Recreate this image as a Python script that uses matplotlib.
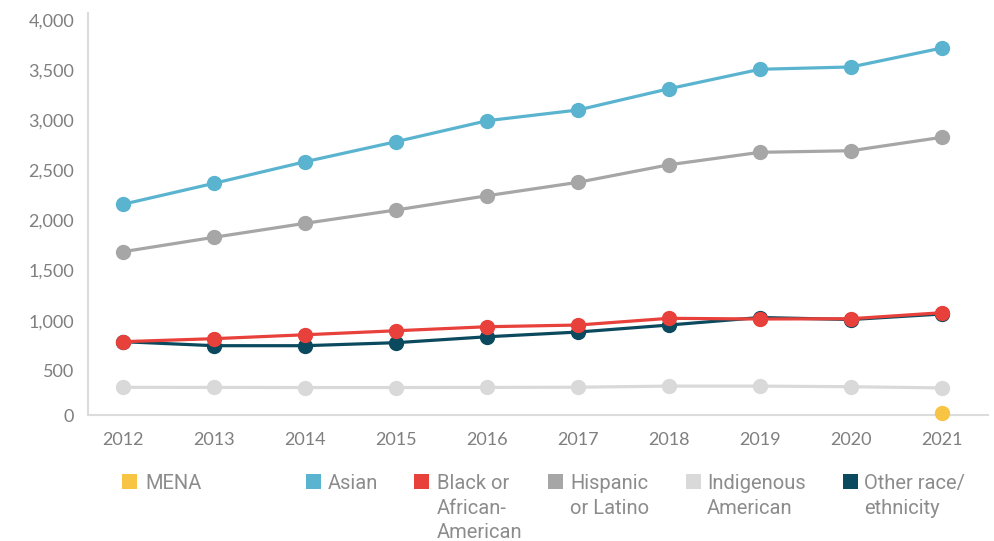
import matplotlib
matplotlib.use("Agg")
import matplotlib.pyplot as plt
from matplotlib.patches import Rectangle

years = [2012, 2013, 2014, 2015, 2016, 2017, 2018, 2019, 2020, 2021]
asian = [2161, 2370, 2585, 2785, 2994, 3101, 3313, 3507, 3530, 3719]
hispanic = [1688, 1832, 1971, 2104, 2246, 2380, 2555, 2679, 2695, 2829]
black = [791, 821, 860, 900, 940, 957, 1024, 1017, 1020, 1080]
other = [791, 751, 751, 781, 840, 887, 957, 1032, 1012, 1067]
indigenous = [336, 335, 334, 334, 335, 337, 348, 348, 342, 330]
mena_years = [2021]
mena = [83]

ytick_vals = [500, 1000, 1500, 2000, 2500, 3000, 3500, 4000]
ytick_labels = ["500", "1,000", "1,500", "2,000", "2,500", "3,000", "3,500", "4,000"]

legend_labels = ["MENA", "Asian", "Black or\nAfrican-\nAmerican", "Hispanic\nor Latino",
                 "Indigenous\nAmerican", "Other race/\nethnicity"]

C_MENA = "#f8c444"
C_ASIAN = "#5ab4cf"
C_BLACK = "#e8403a"
C_HISP = "#a6a6a6"
C_INDIG = "#d9d9d9"
C_OTHER = "#0b4a5e"
legend_colors = [C_MENA, C_ASIAN, C_BLACK, C_HISP, C_INDIG, C_OTHER]

W, H = 994, 541
fig = plt.figure(figsize=(W / 100, H / 100), dpi=100)
ax = fig.add_axes([88 / W, 1 - 415 / H, (988 - 88) / W, (415 - 13) / H])

lw = 2.3
ms = 10
ax.plot(years, indigenous, color=C_INDIG, lw=lw, marker="o", ms=ms, zorder=2)
ax.plot(years, hispanic, color=C_HISP, lw=lw, marker="o", ms=ms, zorder=3)
ax.plot(years, asian, color=C_ASIAN, lw=lw, marker="o", ms=ms, zorder=4)
ax.plot(years, other, color=C_OTHER, lw=lw, marker="o", ms=ms, zorder=5)
ax.plot(years, black, color=C_BLACK, lw=lw, marker="o", ms=ms, zorder=6)
ax.plot(mena_years, mena, color=C_MENA, lw=lw, marker="o", ms=ms, zorder=7, clip_on=False)

ymin = 60
ax.set_ylim(ymin, 4068)
ax.set_xlim(2011.615, 2021.505)
ax.set_yticks([ymin] + ytick_vals)
ax.set_yticklabels(["0"] + ytick_labels)
ax.set_xticks(years)
ax.set_xticklabels([str(y) for y in years])

for s in ["top", "right"]:
    ax.spines[s].set_visible(False)
for s in ["left", "bottom"]:
    ax.spines[s].set_color("#dcdcdc")
    ax.spines[s].set_linewidth(1.5)

ax.tick_params(axis="both", length=0, colors="#7f7f7f")
ax.tick_params(axis="y", pad=10)
ax.tick_params(axis="x", pad=12)
for lab in ax.get_xticklabels() + ax.get_yticklabels():
    lab.set_fontfamily(["Lato", "DejaVu Sans"])
    lab.set_fontweight("normal")
    lab.set_fontsize(13)
    lab.set_color("#7f7f7f")

# legend
sq_x = [122, 306, 414, 548, 686, 843]
tx_x = [145, 328, 437, 570, 707, 864]
sq_top, sq_size = 474, 15
baseline0, line_gap = 489, 24.5
for i, (lab, col) in enumerate(zip(legend_labels, legend_colors)):
    fig.patches.append(Rectangle((sq_x[i] / W, 1 - (sq_top + sq_size) / H), sq_size / W, sq_size / H,
                                 transform=fig.transFigure, color=col, lw=0))
    for j, line in enumerate(lab.split("\n")):
        fig.text(tx_x[i] / W, 1 - (baseline0 + j * line_gap) / H, line,
                 family=["Roboto", "DejaVu Sans"], weight="normal", fontsize=14.5,
                 color="#8c8c8c", ha="left", va="baseline")

fig.savefig("out.png", dpi=100)
